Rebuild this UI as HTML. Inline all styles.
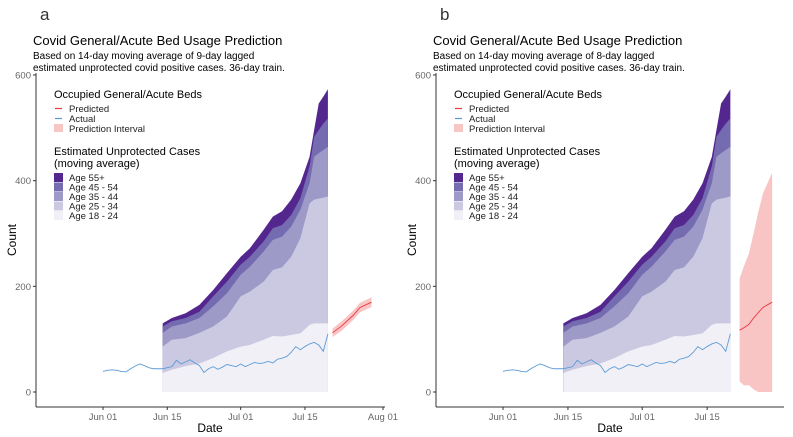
<!DOCTYPE html>
<html><head><meta charset="utf-8"><style>
body{margin:0;background:#fff;}
svg{display:block;font-family:"Liberation Sans",Arial,sans-serif;}
</style></head><body>
<svg id="chart" width="793" height="437" viewBox="0 0 793 437"></svg>
<script>
// ---- data ----
const stackDays=[13,15,18,21,24,27,30,32,35,37,39,41,43,45,46,47,48,49];
const age18_24=[36,42,49,54,64,77,86,89,99,106,105,108,111,127,130,130,130,130];
const age25_34=[86,99,102,112,124,143,181,190,209,231,236,256,291,357,364,366,368,370];
const age35_44=[112,124,130,140,162,187,222,237,266,288,294,313,345,395,445,452,458,464];
const age45_54=[124,134,140,152,181,209,241,256,285,310,316,335,367,427,483,496,508,518];
const age55p=[130,140,149,165,193,225,256,272,307,332,342,364,395,445,496,546,559,573];
const actual=[39,41,42,41,39,38,44,49,53,50,46,44,44,44,46,48,60,53,57,61,55,50,37,44,48,43,47,52,50,48,53,48,52,56,54,55,58,55,62,64,67,75,86,80,86,91,94,89,77,110];
const predDaysA=[50,52,54.5,56,58.5];
const predA=[112,125,145,160,170];
const predLoA=[104,116,136,151,161];
const predHiA=[120,134,154,169,179];
const predDaysB=[51,52,53,54,55,56,58];
const predB=[117,122,128,140,150,160,170];
const predLoB=[20,12,13,5,0,0,0];
const predHiB=[215,240,262,300,340,375,415];
const yTicks=[0,200,400,600];
const xTickDays=[0,14,30,44,61];
const xTickLabels=["Jun 01","Jun 15","Jul 01","Jul 15","Aug 01"];
const layers=[["age-55-plus",age55p,"#54278f"],["age-45-54",age45_54,"#756bb1"],["age-35-44",age35_44,"#9e9ac8"],["age-25-34",age25_34,"#cbc9e2"],["age-18-24",age18_24,"#f2f0f7"]];

const NS="http://www.w3.org/2000/svg";
const svg=document.getElementById('chart');
function mk(tag,attrs,parent,text){const e=document.createElementNS(NS,tag);for(const k in attrs)e.setAttribute(k,attrs[k]);if(text!==undefined)e.textContent=text;(parent||svg).appendChild(e);return e;}

function panel(ox,label,lag,x0,pxd,xEnd,tickCount,pd,pv,plo,phi){
  const g=mk('g',{});
  
  
  const X=d=>ox+x0+d*pxd;
  const Y=v=>392-v*(317/600);
  let t=mk('text',{x:ox+40,y:20,'font-size':17,fill:'#333'},g,label);
  
  t=mk('text',{x:ox+33,y:45,'font-size':13,fill:'#000'},g,'Covid General/Acute Bed Usage Prediction');
  
  t=mk('text',{x:ox+33,y:59,'font-size':10,fill:'#000'},g,'Based on 14-day moving average of '+lag+'-day lagged');
  
  t=mk('text',{x:ox+33,y:71,'font-size':10,fill:'#000'},g,'estimated unprotected covid positive cases. 36-day train.');
  
  layers.forEach(([nm,arr,col])=>{
    let d='M'+X(stackDays[0])+','+Y(0);
    stackDays.forEach((dd,i)=>{d+='L'+X(dd)+','+Y(arr[i]);});
    d+='L'+X(stackDays[stackDays.length-1])+','+Y(0)+'Z';
    const p=mk('path',{d:d,fill:col},g);
    
    
  });
  let d='';actual.forEach((v,i)=>{d+=(i?'L':'M')+X(i)+','+Y(v);});
  let p=mk('path',{d:d,fill:'none',stroke:'#5b9bd5','stroke-width':0.9},g);
  
  d='';pd.forEach((dd,i)=>{d+=(i?'L':'M')+X(dd)+','+Y(phi[i]);});
  for(let i=pd.length-1;i>=0;i--)d+='L'+X(pd[i])+','+Y(plo[i]);
  p=mk('path',{d:d+'Z',fill:'#f8c4c4'},g);
  
  d='';pd.forEach((dd,i)=>{d+=(i?'L':'M')+X(dd)+','+Y(pv[i]);});
  p=mk('path',{d:d,fill:'none',stroke:'#e8383d','stroke-width':0.9},g);
  
  let a=mk('line',{x1:ox+36,y1:73,x2:ox+36,y2:407,stroke:'#333','stroke-width':1},g);
  
  a=mk('line',{x1:ox+36,y1:407,x2:ox+xEnd,y2:407,stroke:'#333','stroke-width':1},g);
  
  yTicks.forEach(v=>{
    mk('line',{x1:ox+33,x2:ox+36,y1:Y(v),y2:Y(v),stroke:'#333'},g);
    const tt=mk('text',{x:ox+31,y:Y(v)+3.5,'font-size':9.5,fill:'#666','text-anchor':'end'},g,String(v));
    
  });
  for(let i=0;i<tickCount;i++){
    const xx=X(xTickDays[i]);
    mk('line',{x1:xx,x2:xx,y1:407,y2:410,stroke:'#333'},g);
    const tt=mk('text',{x:xx,y:420,'font-size':9.5,fill:'#666','text-anchor':'middle'},g,xTickLabels[i]);
    
  }
  t=mk('text',{x:ox+210,y:432,'font-size':12,fill:'#000','text-anchor':'middle'},g,'Date');
  
  t=mk('text',{x:0,y:0,'font-size':12,fill:'#000','text-anchor':'middle',transform:'translate('+(ox+16)+',240) rotate(-90)'},g,'Count');
  
  const lg=mk('g',{},g);
  
  mk('text',{x:ox+54,y:98,'font-size':11,fill:'#000'},lg,'Occupied General/Acute Beds');
  const e1=[['Predicted','line','#e8383d'],['Actual','line','#5b9bd5'],['Prediction Interval','rect','#f8c4c4']];
  e1.forEach(([n,k,c],i)=>{
    const yy=112+i*10;
    if(k==='line')mk('line',{x1:ox+55,x2:ox+62,y1:yy-3.5,y2:yy-3.5,stroke:c,'stroke-width':1.2},lg);
    else mk('rect',{x:ox+54,y:yy-8,width:9,height:8,fill:c},lg);
    const tt=mk('text',{x:ox+69,y:yy,'font-size':9.5,fill:'#222'},lg,n);
    
  });
  mk('text',{x:ox+54,y:155,'font-size':11,fill:'#000'},lg,'Estimated Unprotected Cases');
  mk('text',{x:ox+54,y:167,'font-size':11,fill:'#000'},lg,'(moving average)');
  const names=['Age 55+','Age 45 - 54','Age 35 - 44','Age 25 - 34','Age 18 - 24'];
  layers.forEach(([nm,arr,col],i)=>{
    const yy=181+i*9.5;
    mk('rect',{x:ox+54,y:yy-8,width:9,height:9,fill:col},lg);
    const tt=mk('text',{x:ox+69,y:yy,'font-size':9.5,fill:'#222'},lg,names[i]);
    
  });
}
panel(0,'a',9,103,4.59,385,5,predDaysA,predA,predLoA,predHiA);
panel(400,'b',8,103,4.64,384,4,predDaysB,predB,predLoB,predHiB);
</script>
</body></html>
